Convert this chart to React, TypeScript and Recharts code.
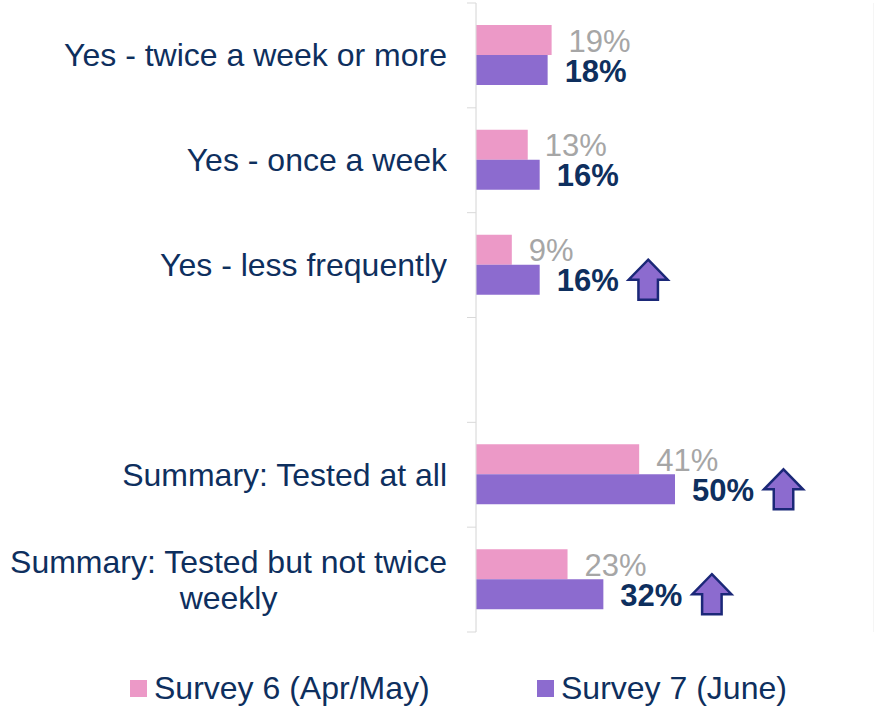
import React from 'react';
import { BarChart, Bar, XAxis, YAxis, CartesianGrid, LabelList } from 'recharts';

const categories = [
  'Yes - twice a week or more',
  'Yes - once a week',
  'Yes - less frequently',
  ' ',
  'Summary: Tested at all',
  'Summary: Tested but not twice\nweekly',
];
const survey6 = [19, 13, 9, null, 41, 23];
const survey7 = [18, 16, 16, null, 50, 32];
const significantRise = [false, false, true, false, true, true];
const seriesNames = ['Survey 6 (Apr/May)', 'Survey 7 (June)'];
const xTicks = [0, 50];

const data = categories.map((c, i) => ({ cat: c, s6: survey6[i], s7: survey7[i], up: significantRise[i] }));

const W = 874;
const H = 707;
const M = { top: 3, right: 0, bottom: 75, left: 0 };
const BAND = (H - M.top - M.bottom) / categories.length;
const FONT = '"Liberation Sans", Arial, sans-serif';
const NAVY = '#0E2F5E';
const PINK = '#EC99C7';
const PURPLE = '#8C6BCF';
const TICK_SIZE = 9;
const TICK_MARGIN = 20;

const CategoryTick = (props: any) => {
  const { x, y, payload, index } = props;
  const axisX = x + TICK_SIZE + TICK_MARGIN;
  const lines = String(payload.value).split('\n');
  return (
    <g>
      <line x1={axisX - TICK_SIZE} x2={axisX} y1={y - BAND / 2} y2={y - BAND / 2} stroke="#d9d9d9" />
      {index === categories.length - 1 && (
        <line x1={axisX - TICK_SIZE} x2={axisX} y1={y + BAND / 2} y2={y + BAND / 2} stroke="#d9d9d9" />
      )}
      <foreignObject x={x - 475} y={y - 50} width={475} height={100}>
        <div
          style={{
            width: 475,
            height: 100,
            display: 'flex',
            justifyContent: 'flex-end',
            alignItems: 'center',
            fontFamily: FONT,
            fontSize: 32,
            lineHeight: '36px',
            color: NAVY,
          }}
        >
          <div style={{ textAlign: 'center', whiteSpace: 'nowrap' }}>
            {lines.map((l, i) => (
              <div key={i}>{l}</div>
            ))}
          </div>
        </div>
      </foreignObject>
    </g>
  );
};

const PinkLabel = (props: any) => {
  const { x, y, width, height, value } = props;
  if (value == null) return null;
  return (
    <text
      x={x + width + 17}
      y={y + height / 2 + 1}
      dominantBaseline="central"
      fontFamily={FONT}
      fontSize={31}
      fill="#A6A6A6"
    >
      {value}%
    </text>
  );
};

const PurpleLabel = (props: any) => {
  const { x, y, width, height, value } = props;
  if (value == null) return null;
  const cy = y + height / 2;
  const row = Math.floor((cy - M.top) / BAND);
  const showArrow = significantRise[row];
  const ax = x + width + 89;
  const aw = 39;
  const ah = 40;
  const ay = cy - ah / 2;
  const pts = [
    [ax + aw / 2, ay],
    [ax + aw, ay + ah / 2],
    [ax + aw * 0.75, ay + ah / 2],
    [ax + aw * 0.75, ay + ah],
    [ax + aw * 0.25, ay + ah],
    [ax + aw * 0.25, ay + ah / 2],
    [ax, ay + ah / 2],
  ]
    .map((p) => p.join(','))
    .join(' ');
  return (
    <g>
      <text
        x={x + width + 17}
        y={cy + 1}
        dominantBaseline="central"
        fontFamily={FONT}
        fontSize={31}
        fontWeight="bold"
        fill={NAVY}
      >
        {value}%
      </text>
      {showArrow && <polygon points={pts} fill={PURPLE} stroke="#1B2878" strokeWidth={2.5} strokeLinejoin="miter" />}
    </g>
  );
};

export default function App() {
  return (
    <div style={{ position: 'absolute', left: 0, top: 0, width: W, height: H, background: '#fff' }}>
      <BarChart width={W} height={H} data={data} layout="vertical" margin={M} barGap={0} barSize={30}>
        <CartesianGrid horizontal={false} vertical={true} stroke="#ebebeb" />
        <XAxis type="number" domain={[0, 100]} ticks={xTicks} height={0} tick={false} axisLine={false} tickLine={false} />
        <YAxis
          type="category"
          dataKey="cat"
          width={476}
          interval={0}
          tickSize={TICK_SIZE}
          tickMargin={TICK_MARGIN}
          tickLine={false}
          axisLine={{ stroke: '#dedede' }}
          tick={<CategoryTick />}
        />
        <Bar dataKey="s6" name={seriesNames[0]} fill={PINK} isAnimationActive={false}>
          <LabelList dataKey="s6" content={<PinkLabel />} />
        </Bar>
        <Bar dataKey="s7" name={seriesNames[1]} fill={PURPLE} isAnimationActive={false}>
          <LabelList dataKey="s7" content={<PurpleLabel />} />
        </Bar>
      </BarChart>
      <div
        style={{
          position: 'absolute',
          top: 669,
          left: 0,
          width: W,
          height: 38,
          fontFamily: FONT,
          fontSize: 32,
          color: NAVY,
        }}
      >
        {seriesNames.map((n, i) => (
          <div
            key={n}
            style={{
              position: 'absolute',
              left: i === 0 ? 130 : 537,
              top: 0,
              display: 'flex',
              alignItems: 'center',
              whiteSpace: 'nowrap',
              lineHeight: '38px',
            }}
          >
            <span style={{ display: 'inline-block', width: 17, height: 17, background: i === 0 ? PINK : PURPLE, marginRight: 7 }} />
            {n}
          </div>
        ))}
      </div>
    </div>
  );
}
